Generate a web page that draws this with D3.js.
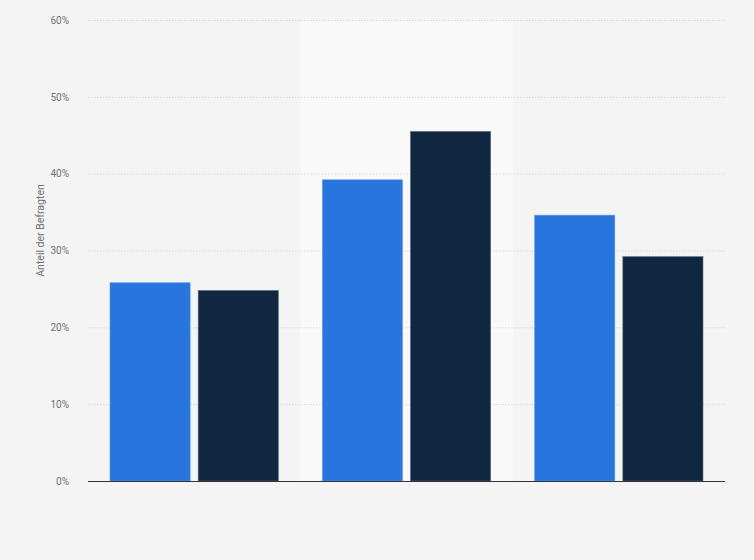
<html>
<head>
    <script src="https://d3js.org/d3.v7.min.js"></script>
    <style>
        body {
            margin: 0;
            background: #f4f4f4;
            font-family: Roboto, "Helvetica Neue", Arial, sans-serif;
        }
        .gridlines line {
            stroke: #d6d6d6;
            stroke-dasharray: 1.5 1.5;
        }
        .gridlines .domain {
            stroke: none;
        }
        .y.axis text {
            font: 10px Roboto, Arial, sans-serif;
            fill: #707070;
        }
        .y.axis .domain, .y.axis line {
            stroke: none;
        }
        .y.label {
            font: 10.5px Roboto, Arial, sans-serif;
            fill: #707070;
        }
    </style>
</head>
<body>
    <svg id="chart" width="754" height="560"></svg>
    <script>
        const categories = ["A", "B", "C"];
        const seriesKeys = ["series1", "series2"];
        const series1 = [25.8, 39.2, 34.6];
        const series2 = [24.8, 45.5, 29.2];
        const yTicks = [0, 10, 20, 30, 40, 50, 60];

        const data = categories.map((c, i) => ({ category: c, series1: series1[i], series2: series2[i] }));

        const svg = d3.select("svg#chart");
        const width = +svg.attr("width");
        const height = +svg.attr("height");
        const margin = { top: 20, right: 29, bottom: 79, left: 88 };
        const chartWidth = width - margin.left - margin.right;
        const chartHeight = height - margin.top - margin.bottom;

        svg.append("rect")
            .attr("width", width)
            .attr("height", height)
            .attr("fill", "#f4f4f4");

        const plot = svg.append("g")
            .attr("transform", `translate(${margin.left},${margin.top})`);

        const xScale = d3.scaleBand().domain(categories).range([0, chartWidth]);
        const xInner = d3.scaleBand().domain(seriesKeys)
            .range([22, xScale.bandwidth() - 22])
            .paddingInner(8 / 88);
        const yScale = d3.scaleLinear().domain([0, 60]).range([chartHeight, 0]);
        const color = d3.scaleOrdinal().domain(seriesKeys).range(["#2876dd", "#0f2740"]);
        const edge = d3.scaleOrdinal().domain(seriesKeys).range(["#5d99e8", "#5b6b7d"]);

        // highlighted middle column
        plot.append("rect")
            .attr("x", xScale(categories[1]))
            .attr("y", 0)
            .attr("width", xScale.bandwidth())
            .attr("height", chartHeight)
            .attr("fill", "#f9f9f9");

        // gridlines
        plot.append("g")
            .attr("class", "gridlines")
            .call(d3.axisLeft(yScale).tickValues(yTicks.slice(1)).tickSize(-chartWidth).tickFormat(""));

        // y axis labels
        plot.append("g")
            .attr("class", "y axis")
            .attr("transform", "translate(-16,0)")
            .call(d3.axisLeft(yScale).tickValues(yTicks).tickSize(0).tickFormat(d => d + "%"));

        plot.append("text")
            .attr("class", "y label")
            .attr("transform", `translate(${40 - margin.left},${chartHeight / 2 - 20}) rotate(-90)`)
            .attr("text-anchor", "middle")
            .attr("dy", "0.35em")
            .text("Anteil der Befragten");

        // bars
        const groups = plot.selectAll("g.group").data(data).join("g")
            .attr("class", "group")
            .attr("transform", d => `translate(${xScale(d.category)},0)`);

        groups.selectAll("rect")
            .data(d => seriesKeys.map(k => ({ key: k, value: d[k] })))
            .join("rect")
            .attr("x", d => xInner(d.key))
            .attr("y", d => yScale(d.value))
            .attr("width", xInner.bandwidth())
            .attr("height", d => chartHeight - yScale(d.value))
            .attr("fill", d => color(d.key))
            .attr("stroke", d => edge(d.key))
            .attr("stroke-width", 0.6);

        // baseline
        plot.append("line")
            .attr("x1", 0)
            .attr("x2", chartWidth)
            .attr("y1", chartHeight + 0.5)
            .attr("y2", chartHeight + 0.5)
            .attr("stroke", "#333")
            .attr("stroke-width", 1.2);
    </script>
</body>
</html>
